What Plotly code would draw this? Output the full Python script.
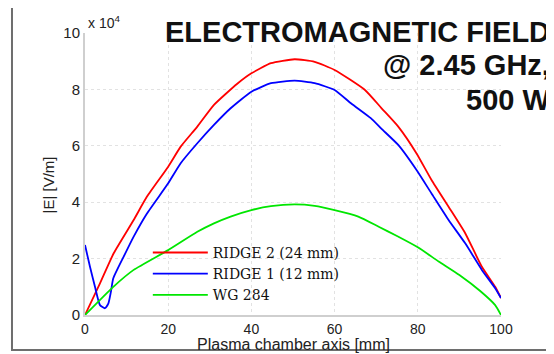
import plotly.graph_objects as go

# ---- data (|E| in units of 1e4 V/m) ----
ridge2_x = [0, 3.6, 6.9, 11.7, 14.9, 20, 23, 27, 31, 36.6, 40, 44.7, 50.4, 55.2, 60, 67.3, 71.3, 75.3, 79.7, 83.3, 87.4, 91.4, 95.4, 98.6, 100]
ridge2_y = [0, 1.12, 2.19, 3.37, 4.2, 5.26, 5.97, 6.68, 7.45, 8.2, 8.57, 8.93, 9.07, 8.98, 8.69, 7.98, 7.33, 6.68, 5.73, 4.79, 3.84, 2.9, 1.71, 1.0, 0.6]

ridge1_x = [0, 1.2, 2.4, 3.6, 4.8, 5.6, 6.2, 6.8, 9.3, 11.7, 14.9, 20, 23, 27, 31, 35, 40, 44.7, 50.4, 55.2, 60, 64, 68.7, 71.3, 75.3, 79.7, 83.3, 87.4, 91.4, 95.4, 98.6, 100]
ridge1_y = [2.48, 1.71, 1.0, 0.35, 0.24, 0.4, 0.8, 1.3, 2.07, 2.78, 3.6, 4.67, 5.38, 6.09, 6.74, 7.33, 7.92, 8.22, 8.31, 8.22, 7.98, 7.5, 6.98, 6.6, 6.03, 5.14, 4.31, 3.37, 2.54, 1.6, 0.95, 0.6]

wg284_x = [0, 6.8, 11.7, 20, 27, 31, 35, 40, 44.7, 50.4, 55.2, 60, 65.7, 70.6, 75, 80, 85, 90, 95, 98.6, 100]
wg284_y = [0, 1.0, 1.6, 2.3, 2.95, 3.25, 3.49, 3.72, 3.86, 3.92, 3.87, 3.72, 3.49, 3.13, 2.8, 2.4, 1.9, 1.42, 0.85, 0.35, 0]

x_ticks = [0, 20, 40, 60, 80, 100]
y_ticks = [0, 2, 4, 6, 8, 10]

series = [
    ("RIDGE 2 (24 mm)", ridge2_x, ridge2_y, "#ff0000"),
    ("RIDGE 1 (12 mm)", ridge1_x, ridge1_y, "#0000ff"),
    ("WG 284", wg284_x, wg284_y, "#00e600"),
]

fig = go.Figure()
for name, xs, ys, col in series:
    fig.add_trace(go.Scatter(x=xs, y=ys, mode="lines", name=name,
                             line=dict(color=col, width=1.8, shape="spline", smoothing=0.5)))

sans = "Liberation Sans, Arial, sans-serif"
# page body adds an 8px margin, so the figure is sized to fit the window after it
fig.update_layout(
    width=546, height=346,
    margin=dict(l=77, r=53, t=25, b=39),
    paper_bgcolor="white", plot_bgcolor="white",
    showlegend=True,
    legend=dict(x=0.151, y=0.277, xanchor="left", yanchor="top",
                bgcolor="rgba(0,0,0,0)", borderwidth=0,
                font=dict(family="DejaVu Serif, Liberation Serif, serif", size=14, color="#111"),
                itemwidth=55, tracegroupgap=0),
    xaxis=dict(range=[0, 100], tickvals=x_ticks, showgrid=True, gridcolor="#e2e2e2",
               griddash="dot", showline=True, linecolor="#cfcfcf", linewidth=2,
               zeroline=False, ticks="", tickfont=dict(family=sans, size=14, color="#222")),
    yaxis=dict(range=[0, 10], tickvals=y_ticks, showgrid=True, gridcolor="#e2e2e2",
               griddash="dot", showline=True, linecolor="#cfcfcf", linewidth=2,
               zeroline=False, ticks="", tickfont=dict(family=sans, size=15, color="#222")),
)

ann = [
    dict(text="ELECTROMAGNETIC FIELD", x=1.1226, y=1.003),
    dict(text="@ 2.45 GHz,", x=1.1226, y=0.888),
    dict(text="500 W", x=1.1226, y=0.762),
]
for a in ann:
    fig.add_annotation(text="<b>%s</b>" % a["text"], xref="paper", yref="paper",
                       x=a["x"], y=a["y"], xanchor="right", yanchor="middle",
                       showarrow=False, font=dict(family=sans, size=29, color="#111"))

fig.add_annotation(text="x 10<sup>4</sup>", xref="paper", yref="paper", x=0.002, y=1.04,
                   xanchor="left", yanchor="middle", showarrow=False,
                   font=dict(family=sans, size=14, color="#222"))
fig.add_annotation(text="|E| [V/m]", xref="paper", yref="paper", x=-0.0885, y=0.46,
                   xanchor="center", yanchor="middle", textangle=-90, showarrow=False,
                   font=dict(family=sans, size=15, color="#222"))
fig.add_annotation(text="Plasma chamber axis [mm]", xref="paper", yref="paper", x=0.5,
                   y=-0.106,
                   xanchor="center", yanchor="middle", showarrow=False,
                   font=dict(family=sans, size=16, color="#222"))

# outer frame
fig.add_shape(type="rect", xref="paper", yref="paper", x0=-0.1755, x1=1.25, y0=-0.124, y1=1.099,
              line=dict(color="#6e6e6e", width=2), fillcolor="rgba(0,0,0,0)", layer="below")

fig.write_html("out.html")
